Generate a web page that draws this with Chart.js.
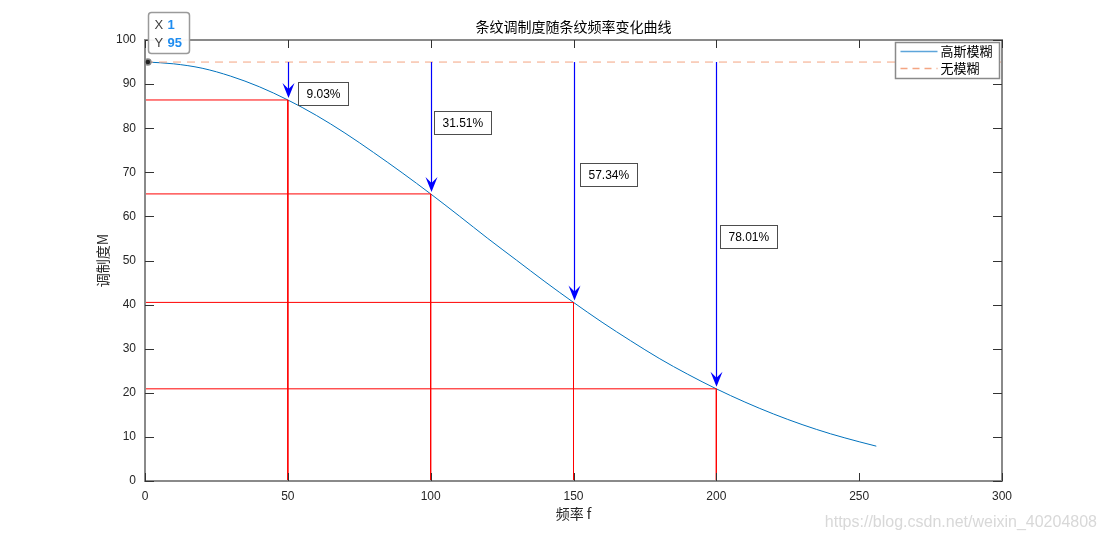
<!DOCTYPE html>
<html>
<head>
<meta charset="utf-8">
<script src="https://cdn.jsdelivr.net/npm/chart.js@4/dist/chart.umd.min.js"></script>
<style>
  html, body { margin: 0; padding: 0; background: #fff; }
  #wrap { width: 1107px; height: 540px; }
</style>
</head>
<body>
<div id="wrap"><canvas id="mtf" width="1107" height="540"></canvas></div>
<script>
// --- data ---
const freq = [1, 10, 20, 30, 40, 50, 60, 70, 80, 90, 100, 110, 120, 130, 140, 150, 160, 170, 180, 190, 200, 210, 220, 230, 240, 250, 256];
const modulation = [95.0, 94.6, 93.6, 91.8, 89.4, 86.4, 82.9, 78.9, 74.5, 69.9, 65.1, 60.1, 55.0, 50.1, 45.2, 40.5, 36.0, 31.8, 27.8, 24.2, 20.9, 17.9, 15.2, 12.8, 10.7, 8.9, 7.9];
const noBlurLevel = 95;

// marked frequencies and the drop labels
const markFreq = [50, 100, 150, 200];
const markMod = [86.4, 65.1, 40.5, 20.9];
const dropLabels = ['9.03%', '31.51%', '57.34%', '78.01%'];
// where each label box sits (data coords, top-left corner)
const labelX = [53.5, 101.3, 152.3, 201.2];
const labelY = [90.5, 84.0, 72.0, 58.0];

const xTicks = [0, 50, 100, 150, 200, 250, 300];
const yTicks = [0, 10, 20, 30, 40, 50, 60, 70, 80, 90, 100];

const TITLE = '条纹调制度随条纹频率变化曲线';
const XLABEL = '频率 f';
const YLABEL = '调制度M';
const SERIES = ['高斯模糊', '无模糊'];

// --- colours ---
const C_CURVE = '#0072BD';
const C_FLAT = '#F4A582';
const C_GUIDE = '#FF0000';
const C_ARROW = '#0000FF';
const C_AXIS = '#8a8a8a';
const C_TEXT = '#262626';
const LATIN = '"Liberation Sans", Arial, sans-serif';
const CJK = '"Noto Sans CJK SC", sans-serif';

// red guide lines: (0,M) -> (f,M) -> (f,0), gaps between
const guidePts = [];
markFreq.forEach((f, i) => {
  guidePts.push({x: 0, y: markMod[i]}, {x: f, y: markMod[i]}, {x: f, y: 0}, {x: f, y: null});
});

// --- extra drawing: box, ticks, arrows, labels, legend ---
const decor = {
  id: 'decor',
  afterDatasetsDraw(chart) {
    const {ctx, chartArea: a, scales: {x, y}} = chart;
    ctx.save();

    // arrows from the flat line down to the curve
    markFreq.forEach((f, i) => {
      const px = Math.round(x.getPixelForValue(f)) + 0.5;
      const y0 = y.getPixelForValue(noBlurLevel);
      const y1 = y.getPixelForValue(markMod[i]) - 2;
      ctx.strokeStyle = C_ARROW;
      ctx.lineWidth = 1.2;
      ctx.beginPath();
      ctx.moveTo(px, y0);
      ctx.lineTo(px, y1 - 8);
      ctx.stroke();
      ctx.fillStyle = C_ARROW;
      ctx.beginPath();
      ctx.moveTo(px, y1);
      ctx.lineTo(px - 6, y1 - 15);
      ctx.lineTo(px, y1 - 9);
      ctx.lineTo(px + 6, y1 - 15);
      ctx.closePath();
      ctx.fill();
    });

    // percentage boxes
    ctx.font = '12px ' + LATIN;
    ctx.textBaseline = 'middle';
    ctx.textAlign = 'left';
    dropLabels.forEach((t, i) => {
      const bx = Math.round(x.getPixelForValue(labelX[i])) + 0.5;
      const by = Math.round(y.getPixelForValue(labelY[i])) + 0.5;
      const w = Math.round(ctx.measureText(t).width) + 16;
      ctx.fillStyle = '#fff';
      ctx.fillRect(bx, by, w, 23);
      ctx.strokeStyle = '#4d4d4d';
      ctx.lineWidth = 1;
      ctx.strokeRect(bx, by, w, 23);
      ctx.fillStyle = '#000';
      ctx.fillText(t, bx + 8, by + 12);
    });

    // axes box
    ctx.strokeStyle = C_AXIS;
    ctx.lineWidth = 2;
    ctx.strokeRect(a.left, a.top, a.right - a.left, a.bottom - a.top);

    // inward ticks on all four sides
    ctx.strokeStyle = '#333';
    ctx.lineWidth = 1;
    ctx.beginPath();
    xTicks.forEach(v => {
      const px = Math.round(x.getPixelForValue(v)) + 0.5;
      ctx.moveTo(px, a.bottom); ctx.lineTo(px, a.bottom - 8);
      ctx.moveTo(px, a.top); ctx.lineTo(px, a.top + 8);
    });
    yTicks.forEach(v => {
      const py = Math.round(y.getPixelForValue(v)) + 0.5;
      ctx.moveTo(a.left, py); ctx.lineTo(a.left + 9, py);
      ctx.moveTo(a.right, py); ctx.lineTo(a.right - 9, py);
    });
    ctx.stroke();

    // legend
    const lx = 895.5, ly = 42.5;
    ctx.fillStyle = '#fff';
    ctx.fillRect(lx, ly, 104, 36);
    ctx.strokeStyle = C_AXIS;
    ctx.lineWidth = 1.5;
    ctx.strokeRect(lx, ly, 104, 36);
    ctx.lineWidth = 1.5;
    ctx.strokeStyle = '#5DA5DA';
    ctx.beginPath(); ctx.moveTo(lx + 5, ly + 9); ctx.lineTo(lx + 42, ly + 9); ctx.stroke();
    ctx.strokeStyle = C_FLAT;
    ctx.setLineDash([7, 5]);
    ctx.beginPath(); ctx.moveTo(lx + 5, ly + 26); ctx.lineTo(lx + 42, ly + 26); ctx.stroke();
    ctx.setLineDash([]);
    ctx.fillStyle = '#000';
    ctx.font = '13px ' + CJK;
    ctx.fillText(SERIES[0], lx + 45, ly + 9);
    ctx.fillText(SERIES[1], lx + 45, ly + 26);

    // data tip at the first point
    const dx = x.getPixelForValue(freq[0]);
    const dy = y.getPixelForValue(modulation[0]);
    ctx.fillStyle = '#222';
    ctx.strokeStyle = '#888';
    ctx.beginPath(); ctx.arc(dx, dy, 3, 0, Math.PI * 2); ctx.fill(); ctx.stroke();
    const tx = Math.round(dx) + 0.5, ty = 12.5;
    ctx.fillStyle = 'rgba(255,255,255,0.95)';
    ctx.strokeStyle = '#9a9a9a';
    ctx.beginPath();
    ctx.roundRect(tx, ty, 41, 41, 3);
    ctx.fill(); ctx.stroke();
    ctx.font = '13px ' + LATIN;
    ctx.fillStyle = '#404040';
    ctx.fillText('X', tx + 6, ty + 13);
    ctx.fillText('Y', tx + 6, ty + 31);
    ctx.fillStyle = '#1E8CF0';
    ctx.font = 'bold 13px ' + LATIN;
    ctx.fillText(String(freq[0]), tx + 19, ty + 13);
    ctx.fillText(String(modulation[0]), tx + 19, ty + 31);

    // title and axis labels
    const cx = (a.left + a.right) / 2;
    ctx.fillStyle = '#000';
    ctx.textAlign = 'center';
    ctx.font = '14px ' + CJK;
    ctx.fillText(TITLE, cx, 27);
    ctx.fillStyle = C_TEXT;
    ctx.fillText(XLABEL, cx, 514);
    ctx.save();
    ctx.translate(103, (a.top + a.bottom) / 2);
    ctx.rotate(-Math.PI / 2);
    ctx.fillText(YLABEL, 0, 0);
    ctx.restore();

    // watermark
    ctx.textAlign = 'right';
    ctx.font = '16px ' + LATIN;
    ctx.fillStyle = 'rgba(200,200,200,0.7)';
    ctx.fillText('https://blog.csdn.net/weixin_40204808', 1097, 523);

    ctx.restore();
  }
};

new Chart(document.getElementById('mtf'), {
  type: 'line',
  data: {
    datasets: [
      {
        label: 'guides',
        data: guidePts,
        borderColor: C_GUIDE,
        borderWidth: 1,
        pointRadius: 0,
        spanGaps: false
      },
      {
        label: SERIES[1],
        data: [{x: 0, y: noBlurLevel}, {x: 300, y: noBlurLevel}],
        borderColor: C_FLAT,
        borderWidth: 1,
        borderDash: [8, 6],
        pointRadius: 0
      },
      {
        label: SERIES[0],
        data: freq.map((f, i) => ({x: f, y: modulation[i]})),
        borderColor: C_CURVE,
        borderWidth: 1,
        pointRadius: 0,
        cubicInterpolationMode: 'monotone'
      }
    ]
  },
  options: {
    responsive: false,
    animation: false,
    layout: { padding: { top: 40, right: 105, left: 0, bottom: 0 } },
    plugins: { legend: { display: false }, title: { display: false }, tooltip: { enabled: false } },
    scales: {
      x: {
        type: 'linear', min: 0, max: 300,
        afterFit: s => { s.height = 59; },
        afterBuildTicks: s => { s.ticks = xTicks.map(v => ({value: v})); },
        grid: { display: false, drawTicks: false },
        border: { display: false },
        ticks: { color: C_TEXT, font: { family: LATIN, size: 12 }, padding: 8, maxRotation: 0 }
      },
      y: {
        type: 'linear', min: 0, max: 100,
        afterFit: s => { s.width = 145; },
        afterBuildTicks: s => { s.ticks = yTicks.map(v => ({value: v})); },
        grid: { display: false, drawTicks: false },
        border: { display: false },
        ticks: { color: C_TEXT, font: { family: LATIN, size: 12 }, padding: 9 }
      }
    }
  },
  plugins: [decor]
});
</script>
</body>
</html>
